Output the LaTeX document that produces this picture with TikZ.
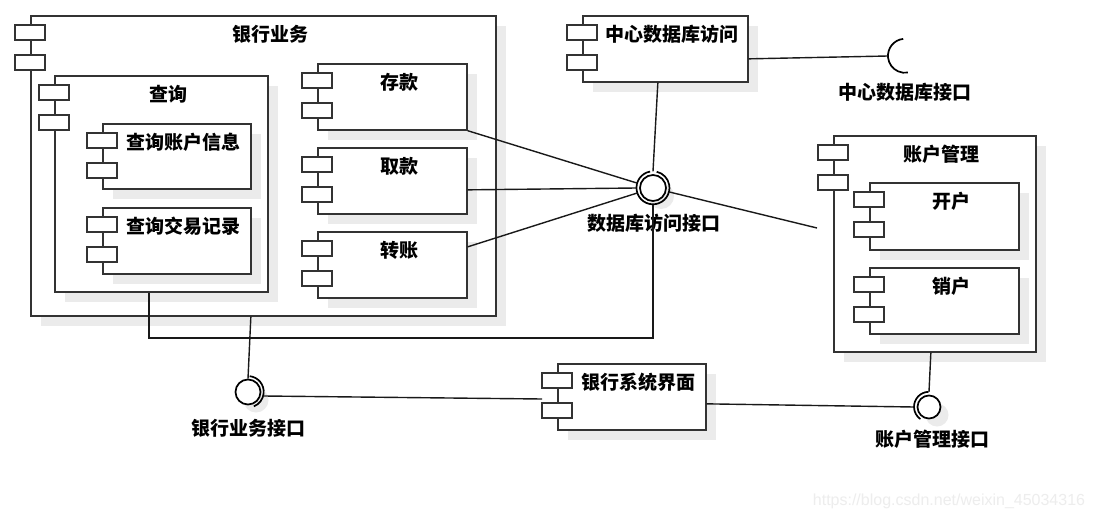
\documentclass[tikz,border=0pt]{standalone}
\usepackage{fontspec}
\setmainfont{Liberation Sans}
\newfontfamily\cjk{Noto Sans CJK SC}
\usetikzlibrary{shadows,calc}
\definecolor{bd}{HTML}{333333}
\definecolor{shd}{HTML}{EBEBEB}
\tikzset{
  compbox/.style={draw=bd, line width=1.7pt, fill=white, inner sep=0pt,
    drop shadow={fill=shd, opacity=1, shadow xshift=10pt, shadow yshift=-10pt}},
  iconbox/.style={draw=bd, line width=1.4pt, fill=white, minimum width=30pt,
    minimum height=15pt, inner sep=0pt},
  ctitle/.style={font=\cjk\bfseries\fontsize{19}{21}\selectfont, inner sep=0pt, text=black},
  conn/.style={draw=black!90, line width=1.4pt},
  ball/.style={circle, draw=black, line width=1.7pt, fill=white, inner sep=0pt,
    drop shadow={fill=shd, opacity=1, shadow xshift=8pt, shadow yshift=-8pt}},
  ring/.style={circle, inner sep=0pt},
  ringarc/.style={draw=black, line width=1.7pt},
}
\newcommand\comp[6]{%
  \pgfmathsetmacro\cw{#4-#2}\pgfmathsetmacro\ch{#5-#3}%
  \pgfmathsetmacro\tx{(#2+15+#4)/2}\pgfmathsetmacro\ty{#3+19}%
  \node[compbox, minimum width=\cw pt, minimum height=\ch pt, anchor=north west] (#1) at (#2,#3) {};
  \node[iconbox] (#1-a) at (#2,#3+17.5) {};
  \node[iconbox] (#1-b) at (#2,#3+47.5) {};
  \node[ctitle] (#1-t) at (\tx,\ty) {#6};
}
\begin{document}
\begin{tikzpicture}[x=1pt,y=-1pt]
\path[fill=white,use as bounding box] (0,0) rectangle (1095,519);
% components
\comp{bank}{30}{15}{495}{315}{银行业务}
\comp{query}{54}{75}{267}{291}{查询}
\comp{qacc}{102}{123}{250}{188}{查询账户信息}
\comp{qtx}{102}{207}{250}{273}{查询交易记录}
\comp{dep}{317}{63}{466}{129}{存款}
\comp{wd}{317}{147}{466}{213}{取款}
\comp{tr}{317}{231}{466}{297}{转账}
\comp{cdb}{582}{15}{747}{81}{中心数据库访问}
\comp{acct}{833}{135}{1035}{351}{账户管理}
\comp{open}{869}{182}{1018}{249}{开户}
\comp{close}{869}{267}{1018}{333}{销户}
\comp{ui}{557}{363}{705}{429}{银行系统界面}
% interfaces
\node[ball, minimum size=26pt] (dbb) at (653,188) {};
\node[ring, minimum size=33pt] (dbr) at (653,188) {};
\draw[ringarc] (dbr.100) arc[start angle=100, end angle=437, radius=16.5pt];
\node[ball, minimum size=25pt] (bkb) at (248,392) {};
\node[ring, minimum size=31.4pt] (bks) at (248,392) {};
\draw[ringarc] (bks.84) arc[start angle=84, end angle=-68, radius=15.7pt];
\node[ball, minimum size=23pt] (acb) at (929,407) {};
\node[ring, minimum size=30pt] (acs) at (929,407) {};
\draw[ringarc] (acs.92) arc[start angle=92, end angle=235, radius=15pt];
\node[ring, minimum size=34pt] (cdi) at (905,56) {};
\draw[ringarc] (cdi.96) arc[start angle=96, end angle=280, radius=17pt];
% labels
\node[ctitle] (dbl) at (654,223) {数据库访问接口};
\node[ctitle] (bkl) at (248,428) {银行业务接口};
\node[ctitle] (acl) at (932,439) {账户管理接口};
\node[ctitle] (cdl) at (905,92) {中心数据库接口};
% connectors
\coordinate (acctEnd) at (817,228);
\coordinate (qturn) at (653,338);
\coordinate (uiL) at (542,399);
\draw[conn] ([xshift=-7.5pt]cdb.south) -- (dbr.90);
\draw[conn] ([yshift=-10pt]cdb.east) -- (cdi.west);
\draw[conn] (dep.south east) -- (dbr);
\draw[conn] ([yshift=-9pt]wd.east) -- (dbr.west);
\draw[conn] ([yshift=18pt]tr.east) -- (dbr);
\draw[conn] (dbr) -- (acctEnd);
\draw[conn] ([xshift=-12.5pt]query.south) |- (qturn) -- (dbr.south);
\draw[conn] ([xshift=-12.5pt]bank.south) -- (bkb.north);
\draw[conn] ([yshift=-4pt]bks.east) -- (uiL);
\draw[conn] ([yshift=-7pt]ui.east) -- (acs.west);
\draw[conn] ([xshift=-4pt]acct.south) -- (acs.north);
% watermark
\node[font=\fontsize{16}{18}\selectfont, text=black!7, inner sep=0pt] (wm) at (949,501) {https://blog.csdn.net/weixin\_45034316};
\end{tikzpicture}
\end{document}
